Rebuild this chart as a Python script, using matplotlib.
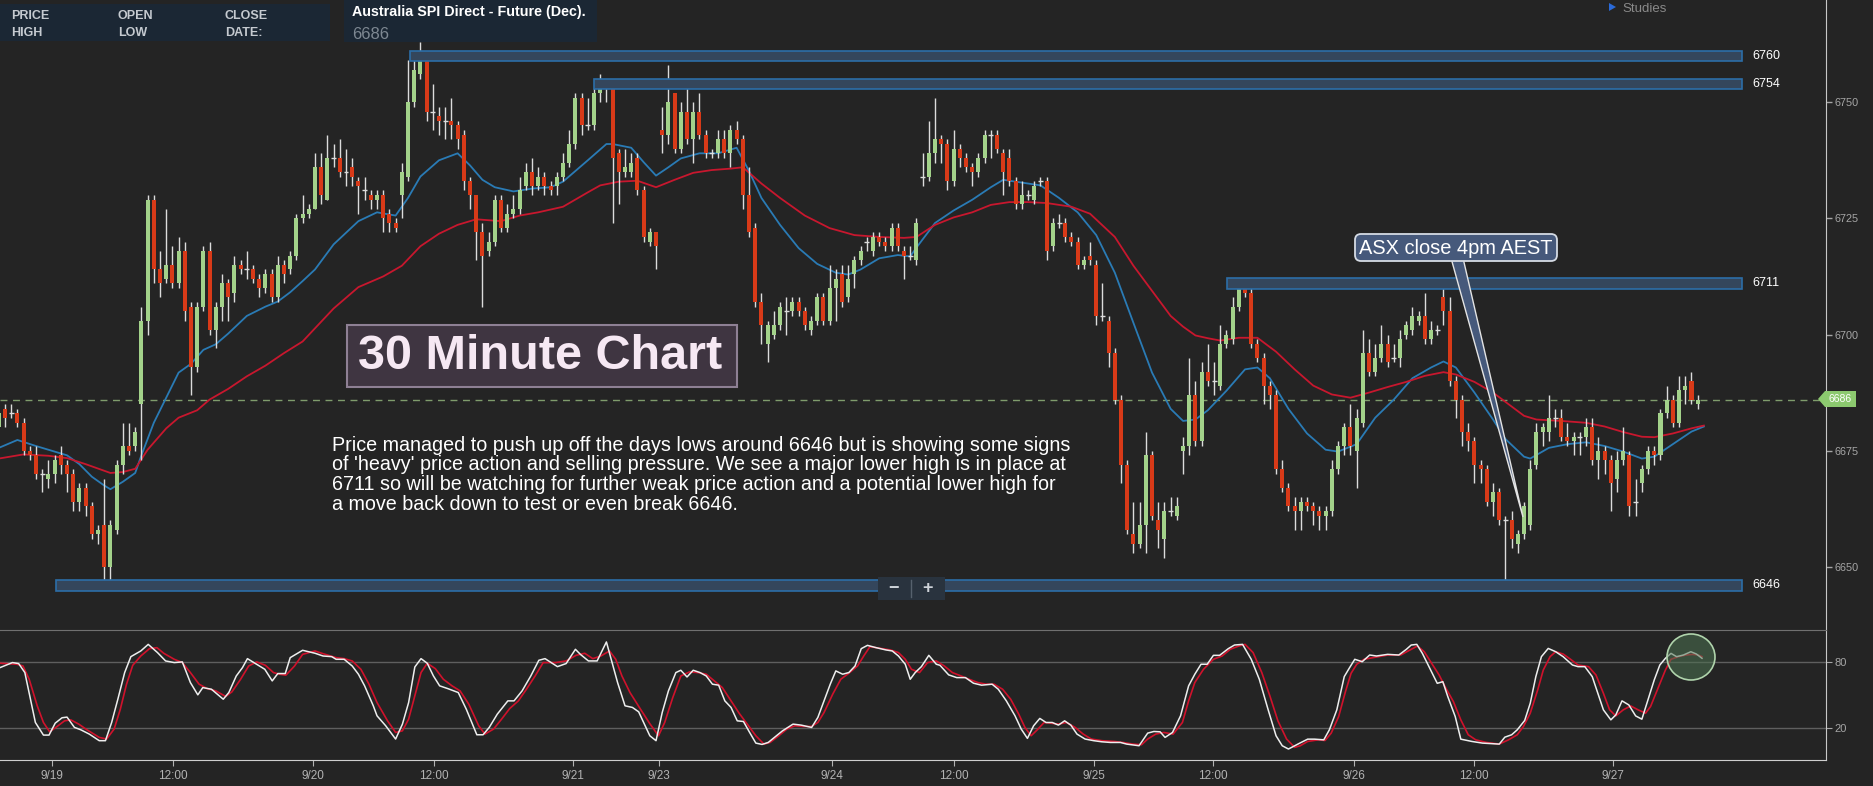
import matplotlib
matplotlib.use("Agg")
import matplotlib.pyplot as plt
from matplotlib import font_manager
from matplotlib.patches import Rectangle, FancyBboxPatch, Ellipse, Polygon
from matplotlib.lines import Line2D
from matplotlib.transforms import Affine2D

W, H = 1873, 786
BG = "#242424"
UP = "#a3d28a"
DOWN = "#d83a18"
WICK = "#dcdcdc"

# 30 minute bars, index 0 = first visible bar
opens = [6680, 6684, 6683, 6683, 6681, 6675, 6674, 6670, 6669, 6670,
         6674, 6672, 6670, 6664, 6667, 6663, 6657, 6659, 6650, 6658,
         6672, 6676, 6676, 6685, 6703, 6729, 6714, 6712, 6715, 6711,
         6718, 6706, 6693, 6706, 6718, 6701, 6706, 6711, 6709, 6715,
         6714, 6714, 6712, 6710, 6713, 6708, 6715, 6714, 6717, 6725,
         6726, 6727, 6736, 6729, 6738, 6738, 6735, 6736, 6733, 6731,
         6730, 6729, 6730, 6726, 6724, 6730, 6734, 6750, 6756, 6759,
         6748, 6747, 6746, 6746, 6745, 6743, 6733, 6730, 6722, 6718,
         6720, 6729, 6723, 6726, 6727, 6732, 6735, 6732, 6734, 6732,
         6732, 6734, 6737, 6741, 6751, 6745, 6745, 6752, 6754, 6754,
         6739, 6735, 6735, 6738, 6731, 6720, 6722, 6744, 6743, 6752,
         6740, 6748, 6742, 6748, 6743, 6739, 6739, 6742, 6739, 6744,
         6742, 6730, 6723, 6707, 6698, 6700, 6702, 6705, 6705, 6707,
         6705, 6701, 6703, 6708, 6703, 6710, 6713, 6708, 6713, 6716,
         6720, 6718, 6721, 6720, 6719, 6723, 6718, 6717, 6716, 6734,
         6734, 6739, 6742, 6741, 6733, 6740, 6738, 6736, 6735, 6738,
         6743, 6743, 6739, 6738, 6733, 6728, 6730, 6729, 6733, 6733,
         6719, 6724, 6724, 6721, 6720, 6715, 6717, 6715, 6704, 6703,
         6696, 6686, 6672, 6657, 6655, 6659, 6674, 6660, 6656, 6662,
         6661, 6675, 6676, 6687, 6677, 6692, 6690, 6689, 6698, 6699,
         6706, 6710, 6709, 6698, 6695, 6689, 6687, 6671, 6667, 6663,
         6662, 6664, 6663, 6662, 6661, 6662, 6671, 6676, 6680, 6675,
         6681, 6696, 6692, 6695, 6698, 6695, 6695, 6700, 6701, 6703,
         6704, 6699, 6701, 6708, 6705, 6690, 6686, 6679, 6677, 6672,
         6671, 6664, 6666, 6660, 6660, 6655, 6657, 6659, 6672, 6679,
         6679, 6682, 6682, 6678, 6677, 6678, 6678, 6680, 6673, 6675,
         6673, 6669, 6673, 6674, 6664, 6668, 6671, 6675, 6674, 6683,
         6686, 6681, 6688, 6690, 6685]
highs = [6685, 6685, 6685, 6684, 6682, 6676, 6676, 6671, 6673, 6674,
         6676, 6673, 6671, 6668, 6668, 6664, 6659, 6669, 6660, 6673,
         6681, 6681, 6680, 6706, 6730, 6730, 6718, 6727, 6719, 6721,
         6720, 6707, 6707, 6719, 6720, 6707, 6713, 6712, 6717, 6716,
         6718, 6715, 6713, 6714, 6714, 6717, 6716, 6718, 6726, 6730,
         6728, 6739, 6739, 6743, 6741, 6742, 6740, 6738, 6734, 6734,
         6731, 6731, 6731, 6727, 6725, 6737, 6759, 6761, 6763, 6759,
         6754, 6749, 6749, 6751, 6746, 6744, 6734, 6730, 6724, 6722,
         6730, 6730, 6728, 6730, 6734, 6737, 6738, 6736, 6735, 6733,
         6735, 6739, 6744, 6752, 6752, 6751, 6753, 6756, 6755, 6755,
         6740, 6740, 6739, 6739, 6732, 6723, 6722, 6749, 6758, 6752,
         6750, 6754, 6750, 6752, 6744, 6740, 6744, 6744, 6745, 6746,
         6743, 6736, 6724, 6709, 6703, 6705, 6707, 6708, 6708, 6708,
         6706, 6704, 6709, 6709, 6715, 6714, 6715, 6715, 6717, 6719,
         6721, 6722, 6722, 6721, 6724, 6724, 6719, 6719, 6725, 6739,
         6746, 6751, 6743, 6742, 6744, 6741, 6739, 6737, 6739, 6744,
         6744, 6744, 6740, 6740, 6734, 6733, 6731, 6733, 6734, 6734,
         6725, 6726, 6725, 6722, 6721, 6717, 6720, 6716, 6711, 6704,
         6697, 6687, 6673, 6664, 6664, 6679, 6675, 6664, 6664, 6665,
         6665, 6678, 6695, 6690, 6694, 6698, 6694, 6702, 6701, 6708,
         6712, 6712, 6710, 6699, 6696, 6690, 6688, 6673, 6668, 6665,
         6665, 6665, 6664, 6663, 6663, 6673, 6677, 6681, 6685, 6684,
         6701, 6699, 6698, 6702, 6700, 6698, 6701, 6703, 6706, 6705,
         6709, 6703, 6702, 6710, 6708, 6691, 6687, 6681, 6678, 6673,
         6672, 6668, 6667, 6661, 6662, 6658, 6664, 6673, 6681, 6681,
         6687, 6684, 6684, 6681, 6679, 6679, 6682, 6682, 6678, 6676,
         6674, 6675, 6680, 6675, 6669, 6672, 6676, 6676, 6684, 6689,
         6687, 6691, 6691, 6692, 6687]
lows = [6679, 6680, 6682, 6680, 6674, 6673, 6669, 6666, 6667, 6668,
        6670, 6666, 6662, 6662, 6661, 6656, 6655, 6647, 6646, 6657,
        6670, 6674, 6675, 6673, 6700, 6711, 6708, 6711, 6710, 6710,
        6703, 6687, 6692, 6705, 6700, 6697, 6703, 6703, 6707, 6713,
        6712, 6711, 6708, 6709, 6707, 6707, 6711, 6713, 6716, 6724,
        6725, 6727, 6728, 6729, 6736, 6734, 6732, 6732, 6726, 6729,
        6727, 6727, 6722, 6722, 6722, 6725, 6733, 6749, 6755, 6746,
        6744, 6743, 6742, 6742, 6740, 6731, 6727, 6716, 6706, 6717,
        6719, 6722, 6722, 6725, 6726, 6731, 6730, 6731, 6730, 6730,
        6730, 6733, 6736, 6740, 6743, 6744, 6744, 6750, 6750, 6724,
        6728, 6734, 6734, 6730, 6720, 6719, 6714, 6739, 6741, 6739,
        6739, 6741, 6737, 6742, 6738, 6738, 6738, 6738, 6736, 6741,
        6727, 6721, 6706, 6698, 6694, 6699, 6701, 6700, 6704, 6704,
        6701, 6700, 6702, 6702, 6702, 6703, 6706, 6707, 6710, 6715,
        6718, 6717, 6719, 6718, 6718, 6718, 6712, 6716, 6715, 6732,
        6733, 6737, 6737, 6731, 6732, 6736, 6735, 6732, 6734, 6737,
        6738, 6739, 6730, 6732, 6727, 6727, 6729, 6728, 6732, 6716,
        6718, 6723, 6720, 6719, 6714, 6714, 6715, 6702, 6703, 6693,
        6685, 6668, 6657, 6653, 6654, 6653, 6660, 6654, 6652, 6661,
        6660, 6670, 6674, 6676, 6676, 6689, 6687, 6688, 6697, 6698,
        6705, 6708, 6697, 6694, 6685, 6684, 6670, 6666, 6662, 6658,
        6658, 6662, 6659, 6658, 6658, 6661, 6670, 6674, 6674, 6667,
        6680, 6691, 6691, 6694, 6693, 6694, 6693, 6699, 6700, 6702,
        6698, 6698, 6700, 6702, 6689, 6682, 6676, 6675, 6668, 6668,
        6663, 6661, 6659, 6647, 6654, 6653, 6656, 6658, 6671, 6676,
        6677, 6680, 6677, 6676, 6674, 6674, 6676, 6672, 6669, 6670,
        6662, 6666, 6672, 6661, 6661, 6666, 6670, 6672, 6673, 6682,
        6680, 6680, 6685, 6685, 6684]
closes = [6683, 6682, 6683, 6681, 6675, 6674, 6670, 6670, 6670, 6673,
          6672, 6670, 6664, 6667, 6663, 6657, 6658, 6650, 6659, 6672,
          6676, 6675, 6679, 6703, 6729, 6714, 6711, 6715, 6711, 6718,
          6705, 6693, 6706, 6718, 6701, 6706, 6711, 6708, 6715, 6714,
          6714, 6712, 6710, 6713, 6708, 6715, 6713, 6717, 6725, 6726,
          6727, 6736, 6730, 6738, 6738, 6735, 6735, 6734, 6732, 6731,
          6729, 6730, 6725, 6724, 6723, 6735, 6750, 6757, 6759, 6748,
          6748, 6746, 6746, 6745, 6742, 6733, 6730, 6722, 6717, 6720,
          6729, 6723, 6726, 6727, 6731, 6735, 6732, 6734, 6732, 6731,
          6734, 6737, 6741, 6751, 6745, 6745, 6752, 6754, 6754, 6738,
          6735, 6736, 6737, 6731, 6721, 6722, 6719, 6743, 6750, 6740,
          6748, 6742, 6748, 6743, 6739, 6739, 6742, 6739, 6744, 6742,
          6730, 6722, 6707, 6702, 6702, 6702, 6706, 6705, 6707, 6705,
          6702, 6703, 6708, 6703, 6710, 6712, 6707, 6712, 6716, 6718,
          6720, 6721, 6720, 6719, 6723, 6719, 6717, 6717, 6724, 6734,
          6739, 6742, 6741, 6733, 6740, 6738, 6736, 6735, 6738, 6743,
          6743, 6740, 6735, 6733, 6728, 6730, 6730, 6732, 6733, 6718,
          6724, 6724, 6721, 6720, 6715, 6716, 6716, 6704, 6704, 6696,
          6686, 6672, 6658, 6655, 6659, 6674, 6661, 6658, 6662, 6662,
          6663, 6676, 6687, 6677, 6692, 6690, 6690, 6698, 6700, 6706,
          6710, 6709, 6698, 6695, 6689, 6687, 6671, 6667, 6663, 6662,
          6664, 6663, 6662, 6661, 6662, 6671, 6676, 6680, 6676, 6682,
          6696, 6692, 6695, 6698, 6694, 6695, 6699, 6702, 6704, 6704,
          6699, 6701, 6701, 6705, 6690, 6686, 6679, 6677, 6672, 6671,
          6664, 6666, 6660, 6660, 6656, 6657, 6663, 6671, 6679, 6680,
          6682, 6682, 6678, 6677, 6678, 6678, 6680, 6673, 6675, 6673,
          6668, 6673, 6675, 6663, 6664, 6671, 6675, 6674, 6683, 6686,
          6681, 6688, 6689, 6686, 6686]

# moving averages: (bar, value)
ma_fast = [(0, 6675.6), (3, 6677.3), (6, 6676), (8, 6675.2), (11, 6674), (13, 6672.1),
           (15, 6669.4), (17, 6667.5), (18, 6666.7), (20, 6668.3), (22, 6670.2), (23, 6674),
           (25, 6681), (27, 6686.4), (29, 6691.8), (31, 6693.7), (33, 6696.7), (35, 6697.9),
           (37, 6700.2), (40, 6704), (43, 6706), (45, 6707.1), (47, 6709.1), (49, 6711.5),
           (51, 6714), (54, 6719.4), (58, 6724.4), (61, 6726.3), (64, 6725.6), (66, 6729.4),
           (68, 6734), (71, 6737.5), (74, 6739), (76, 6736.4), (78, 6733.3), (80, 6731.7),
           (83, 6730.8), (86, 6731.4), (89, 6731.7), (91, 6732.9), (93, 6735.2), (95, 6737.5),
           (98, 6741), (99, 6741), (102, 6740.2), (104, 6737.1), (106, 6734.2), (108, 6736),
           (110, 6737.9), (113, 6739), (116, 6739), (119, 6740.2), (121, 6735.2), (123, 6729.4),
           (126, 6723.6), (129, 6718.6), (132, 6715.2), (135, 6713.3), (137, 6712.9), (139, 6714),
           (142, 6716.4), (145, 6717.1), (147, 6716.8), (148, 6718.7), (151, 6724), (154, 6726.7),
           (157, 6729), (160, 6731.7), (162, 6733.3), (165, 6732.7), (168, 6732.1), (171, 6729.4),
           (174, 6726.3), (177, 6721.4), (180, 6713.3), (183, 6702.5), (186, 6691.8), (189, 6684),
           (191, 6681.4), (193, 6681.7), (195, 6683.7), (198, 6687.9), (201, 6692.5), (203, 6692.9),
           (205, 6690.6), (208, 6684), (211, 6678.7), (214, 6675.2), (216, 6674.8), (219, 6676.4),
           (222, 6682.1), (225, 6686), (228, 6690.6), (231, 6692.9), (233, 6694.2), (235, 6692.9),
           (238, 6687.5), (241, 6681.7), (243, 6677.5), (246, 6673.7), (247, 6673.3), (250, 6675.6),
           (253, 6676.4), (256, 6676.8), (259, 6676), (262, 6674.8), (265, 6673.3), (267, 6673.7),
           (270, 6676.4), (273, 6679.1), (275, 6680.2)]
ma_slow = [(0, 6673.3), (4, 6674.2), (8, 6673.9), (11, 6673.4), (14, 6672.1), (18, 6670.2),
           (20, 6670.4), (22, 6671.1), (24, 6675.2), (27, 6679.8), (29, 6682.1), (32, 6683.7),
           (34, 6686), (37, 6688.3), (40, 6691), (43, 6693.3), (46, 6696), (49, 6698.5),
           (54, 6705.6), (58, 6710.2), (62, 6712.5), (65, 6714.8), (68, 6719), (71, 6721.7),
           (74, 6723.6), (77, 6724.8), (81, 6724.4), (84, 6725.6), (87, 6726.3), (91, 6727.5),
           (95, 6730.6), (97, 6732.1), (100, 6732.9), (103, 6733.1), (106, 6731.7), (109, 6733.3),
           (112, 6734.8), (115, 6735.4), (118, 6735.7), (120, 6736), (123, 6732.5), (126, 6729.4),
           (130, 6725.6), (134, 6722.9), (138, 6721.4), (142, 6721), (146, 6720.8), (148, 6721),
           (151, 6723.6), (154, 6725.2), (157, 6726.3), (160, 6727.9), (163, 6728.5), (166, 6728.5),
           (169, 6728.3), (173, 6727.5), (176, 6726), (180, 6721), (183, 6714.8), (186, 6709.4),
           (189, 6704), (191, 6701.7), (193, 6699.8), (195, 6699.2), (197, 6698.7), (200, 6699.3),
           (203, 6699.3), (206, 6696.3), (209, 6692.5), (212, 6689), (215, 6687.1), (218, 6686.4),
           (221, 6687.5), (224, 6688.7), (227, 6689.8), (230, 6691.1), (233, 6691.9), (235, 6691.4),
           (238, 6689.8), (241, 6687.5), (243, 6685.5), (246, 6682.5), (248, 6681.7), (252, 6681.4),
           (256, 6681), (259, 6680.2), (262, 6679), (265, 6678), (267, 6677.9), (270, 6678.7),
           (273, 6679.8), (275, 6680.4)]

# stochastic %K (white) and %D (red): (bar, value)
stoch_k = [(0.19, 75.1), (2.2, 79.7), (3.2, 78.8), (4.2, 70.6), (5.9, 25.1), (7.2, 13.6), (8.1, 13.6),
           (9.1, 24.5), (10.2, 29.4), (11.0, 30.0), (12.2, 20.6), (13.2, 18.5), (14.6, 14.5), (16.2, 8.5),
           (17.2, 8.5), (18.2, 25.1), (19.2, 46.3), (20.3, 70.6), (21.3, 85.1), (22.9, 90.3), (24.1, 96.3),
           (25.6, 88.8), (26.9, 81.2), (28.3, 79.7), (29.6, 80.3), (30.9, 61.5), (32.1, 50.3), (32.9, 56.9),
           (34.3, 55.4), (36.2, 46.3), (37.1, 52.4), (38.3, 67.5), (39.3, 75.1), (40.1, 83.3), (41.3, 79.1),
           (42.9, 73.6), (44.1, 63.0), (45.0, 69.7), (46.2, 69.7), (47.0, 84.2), (49.0, 90.9), (51.0, 88.2),
           (52.3, 85.7), (53.7, 85.1), (54.4, 82.7), (55.7, 82.7), (57.0, 76.6), (58.0, 69.1), (59.0, 58.5),
           (60.4, 40.3), (61.0, 31.2), (62.4, 22.1), (64.0, 10.0), (65.1, 23.6), (66.1, 43.3), (67.1, 75.7),
           (68.1, 83.3), (69.1, 79.1), (70.1, 67.5), (71.1, 58.5), (72.4, 56.0), (74.1, 52.4), (75.4, 37.2),
           (77.1, 13.9), (78.1, 13.9), (79.1, 20.6), (80.4, 32.7), (82.1, 44.8), (83.1, 44.8), (84.4, 53.9),
           (85.8, 67.5), (87.1, 81.8), (88.1, 83.3), (90.1, 76.0), (91.5, 78.8), (93.0, 91.8), (93.8, 87.2),
           (95.1, 81.2), (96.5, 81.2), (98.0, 98.5), (99.8, 61.5), (101.0, 40.3), (102.2, 38.8),
           (103.2, 34.8), (105.0, 13.0), (106.0, 8.5), (107.0, 34.2), (108.0, 53.9), (109.2, 70.6),
           (110.0, 72.7), (111.0, 66.6), (112.0, 72.7), (113.1, 70.6), (114.1, 67.5), (115.1, 60.0),
           (116.1, 59.1), (117.1, 44.8), (118.1, 38.8), (119.1, 26.6), (120.1, 26.0), (121.1, 16.0),
           (122.1, 6.3), (123.1, 5.1), (124.1, 6.9), (125.1, 11.5), (126.4, 17.5), (128.1, 23.6),
           (129.4, 22.7), (131.1, 20.6), (132.1, 29.7), (133.1, 44.8), (134.1, 60.0), (135.0, 72.1),
           (136.1, 69.1), (137.1, 70.6), (138.1, 76.6), (139.1, 92.4), (140.1, 95.4), (141.5, 93.3),
           (143.1, 91.2), (144.1, 90.3), (145.1, 85.7), (146.2, 78.2), (147.0, 64.5), (147.8, 70.6),
           (148.8, 76.0), (150.0, 86.3), (151.2, 78.2), (151.8, 77.2), (153.2, 68.5), (154.5, 66.0),
           (155.9, 66.0), (157.2, 60.9), (158.5, 59.1), (160.2, 60.0), (161.2, 55.4), (162.5, 44.8),
           (163.9, 31.2), (164.9, 19.1), (165.9, 10.6), (166.9, 22.1), (167.9, 28.8), (168.9, 25.1),
           (169.9, 25.1), (170.9, 22.7), (171.9, 26.6), (172.9, 22.7), (173.9, 14.5), (175.2, 10.0),
           (176.6, 8.5), (177.9, 7.5), (179.3, 6.9), (180.9, 6.9), (181.9, 5.4), (183.9, 3.9),
           (185.3, 15.4), (186.3, 16.9), (187.3, 16.6), (188.1, 11.5), (189.3, 16.0), (190.6, 31.2),
           (191.9, 58.5), (192.9, 69.1), (193.9, 78.2), (194.9, 78.2), (195.9, 86.3), (196.9, 86.3),
           (198.3, 92.4), (199.3, 95.7), (200.6, 96.3), (202.0, 82.7), (203.3, 64.5), (204.7, 37.2),
           (206.0, 13.0), (207.0, 3.9), (208.0, 0.9), (209.9, 6.5), (211.1, 9.9), (212.2, 9.9),
           (213.7, 9.3), (214.6, 18.4), (215.8, 36.6), (217.0, 66.9), (217.8, 74.5), (218.7, 82.7),
           (219.9, 80.5), (221.1, 86.6), (222.2, 85.7), (224.0, 87.2), (225.8, 86.6), (227.0, 91.7),
           (227.8, 95.7), (228.7, 96.3), (229.6, 88.1), (230.8, 74.5), (232.0, 60.8), (232.9, 62.3),
           (233.7, 48.7), (234.9, 30.5), (235.8, 9.9), (237.6, 7.8), (239.3, 6.3), (242.0, 5.4),
           (242.9, 11.7), (244.0, 13.9), (244.9, 18.4), (246.1, 26.9), (247.0, 42.7), (247.9, 66.9),
           (248.8, 85.1), (249.9, 92.6), (251.1, 89.6), (252.3, 85.1), (253.8, 77.5), (254.7, 76.0),
           (255.8, 76.0), (257.0, 66.9), (257.9, 51.7), (258.8, 36.6), (260.0, 27.5), (260.8, 32.0),
           (261.8, 44.8), (262.9, 41.1), (264.0, 31.1), (265.0, 28.1), (265.9, 44.2), (267.0, 63.9),
           (267.9, 77.5), (268.8, 83.6), (269.7, 88.1), (270.6, 85.1), (271.7, 86.6), (272.9, 89.6),
           (273.8, 87.5), (274.7, 83.6)]
stoch_d = [(0.19, 79.1), (2.9, 78.2), (3.9, 76.6), (4.9, 64.5), (6.2, 40.3), (7.2, 25.1), (8.2, 16.6),
           (9.2, 20.6), (10.6, 26.6), (11.6, 27.5), (12.9, 23.6), (14.2, 18.5), (16.2, 11.5), (17.4, 10.0),
           (18.6, 19.1), (19.6, 37.2), (20.6, 60.0), (21.6, 77.2), (22.9, 85.7), (24.3, 92.4), (25.5, 93.3),
           (26.6, 88.2), (28.3, 82.7), (29.6, 79.7), (30.9, 70.6), (32.3, 60.0), (33.6, 56.0), (35.0, 53.9),
           (36.6, 48.8), (37.6, 53.0), (39.0, 64.5), (40.3, 76.6), (41.6, 80.3), (43.0, 77.2), (44.3, 70.6),
           (45.3, 69.1), (46.3, 68.2), (47.7, 76.6), (49.0, 87.2), (51.0, 90.3), (52.3, 87.8), (54.4, 84.2),
           (55.7, 83.3), (57.0, 81.2), (58.4, 73.6), (59.7, 60.0), (61.0, 43.3), (62.7, 26.6), (64.0, 16.0),
           (65.1, 17.5), (66.1, 28.2), (67.1, 49.4), (68.1, 70.6), (69.1, 79.1), (70.4, 74.2), (71.7, 64.5),
           (73.1, 58.5), (74.4, 53.9), (75.8, 41.8), (77.4, 22.1), (78.4, 14.5), (79.8, 19.1), (81.1, 28.2),
           (82.4, 37.8), (83.8, 44.8), (85.1, 55.4), (86.5, 67.5), (87.8, 79.7), (89.8, 79.7), (91.5, 81.2),
           (93.1, 86.3), (94.5, 88.2), (95.8, 83.3), (97.1, 85.7), (98.5, 90.3), (99.5, 82.7), (100.5, 67.5),
           (101.8, 52.4), (103.5, 37.2), (105.0, 24.0), (106.4, 13.0), (107.4, 25.1), (108.7, 47.8),
           (110.0, 67.5), (111.4, 71.2), (112.7, 70.6), (114.1, 69.1), (115.4, 63.0), (116.7, 56.9),
           (118.1, 44.8), (119.4, 33.6), (120.7, 23.6), (122.1, 13.0), (123.4, 5.4), (124.4, 6.9),
           (125.8, 13.0), (127.1, 19.1), (128.4, 22.1), (129.8, 21.5), (131.1, 21.5), (132.1, 25.1),
           (133.1, 34.2), (134.5, 50.9), (135.8, 64.5), (137.1, 70.0), (138.5, 76.6), (139.5, 85.7),
           (140.5, 94.2), (142.1, 92.7), (143.8, 91.2), (145.1, 88.8), (146.2, 82.7), (147.2, 73.6),
           (148.5, 70.6), (149.8, 79.7), (151.2, 81.2), (152.5, 76.6), (153.8, 70.6), (155.2, 67.5),
           (156.5, 64.5), (157.9, 61.5), (159.2, 60.0), (160.5, 60.0), (161.9, 55.4), (163.2, 46.3),
           (164.5, 32.7), (165.5, 20.6), (166.5, 13.0), (167.5, 18.5), (168.6, 25.1), (169.6, 24.5),
           (170.9, 23.6), (172.2, 25.1), (173.6, 20.6), (174.9, 14.5), (176.2, 10.0), (177.9, 8.5),
           (179.9, 7.8), (181.3, 6.9), (182.9, 5.4), (184.3, 4.8), (185.3, 10.0), (186.6, 14.5),
           (187.9, 16.0), (189.4, 14.5), (190.9, 25.1), (191.9, 44.8), (192.9, 61.5), (194.3, 73.6),
           (195.9, 82.7), (197.3, 85.7), (198.6, 91.8), (200.0, 94.8), (201.0, 96.3), (202.3, 88.8),
           (203.7, 70.6), (205.0, 49.4), (206.3, 26.6), (207.7, 10.0), (209.0, 2.4), (209.9, 3.9),
           (211.1, 7.8), (212.8, 9.3), (213.9, 8.7), (214.9, 15.4), (216.1, 30.5), (217.2, 53.3),
           (218.1, 69.9), (219.0, 78.1), (220.2, 82.7), (221.7, 84.2), (224.0, 86.6), (226.1, 86.6),
           (227.6, 91.1), (228.8, 94.8), (229.9, 89.6), (231.1, 79.0), (232.3, 68.4), (233.4, 56.3),
           (234.6, 44.2), (235.8, 27.5), (237.0, 13.9), (238.2, 9.3), (239.9, 6.9), (242.0, 5.4),
           (243.5, 9.3), (244.9, 13.9), (245.9, 21.4), (247.0, 33.6), (248.2, 54.8), (249.1, 72.9),
           (250.2, 85.1), (251.1, 89.6), (252.3, 87.5), (253.5, 82.7), (254.7, 77.5), (256.4, 76.0),
           (257.6, 68.4), (258.8, 51.7), (259.8, 36.6), (260.8, 31.1), (262.0, 36.6), (263.2, 40.2),
           (264.4, 36.6), (265.6, 33.6), (266.4, 39.6), (267.6, 56.3), (268.8, 72.9), (269.7, 82.7),
           (270.9, 85.1), (272.1, 86.6), (273.2, 87.2), (274.1, 86.6), (274.7, 85.1)]

levels = [6760, 6754, 6711, 6646]
level_start = [66.3, 96.0, 198.1, 9.2]
level_end = 281.2
last_price = 6686

tick_pos = [8.6, 28.1, 50.7, 70.2, 92.6, 106.5, 134.4, 154.1, 176.6, 195.8, 218.6, 237.9, 260.3]
tick_lab = ["9/19", "12:00", "9/20", "12:00", "9/21", "9/23", "9/24", "12:00",
            "9/25", "12:00", "9/26", "12:00", "9/27"]
price_ticks = [6650, 6675, 6700, 6725, 6750]
stoch_ticks = [20, 80]

comment = ["Price managed to push up off the days lows around 6646 but is showing some signs",
           "of 'heavy' price action and selling pressure. We see a major lower high is in place at",
           "6711 so will be watching for further weak price action and a potential lower high for",
           "a move back down to test or even break 6646."]

names = {f.name for f in font_manager.fontManager.ttflist}
if "Liberation Sans Narrow" in names:
    NARROW, TITLE_SIZE = "Liberation Sans Narrow", 12.6
else:
    NARROW, TITLE_SIZE = "Liberation Sans", 10.3
plt.rcParams["font.family"] = ["Liberation Sans", "DejaVu Sans"]

fig = plt.figure(figsize=(W / 100, H / 100), dpi=100, facecolor=BG)
# pixel coords measured from the top-left corner of the image
pix = Affine2D().scale(1 / W, -1 / H).translate(0, 1) + fig.transFigure

ax = fig.add_axes([0, 1 - 630 / H, 1826 / W, 630 / H], facecolor=BG)
sx = fig.add_axes([0, 1 - 760 / H, 1826 / W, 130 / H], facecolor=BG)
xmin, xmax = 0.194, 294.7

# ---- price panel ----
n = len(opens)
idx = list(range(n))
ax.vlines(idx, lows, highs, color=WICK, lw=1, zorder=3)
up = [i for i in idx if closes[i] > opens[i]]
dn = [i for i in idx if closes[i] < opens[i]]
dj = [i for i in idx if closes[i] == opens[i]]
ax.bar(up, [closes[i] - opens[i] for i in up], bottom=[opens[i] for i in up],
       width=0.66, color=UP, lw=0, zorder=4)
ax.bar(dn, [opens[i] - closes[i] for i in dn], bottom=[closes[i] for i in dn],
       width=0.66, color=DOWN, lw=0, zorder=4)
ax.hlines([opens[i] for i in dj], [i - 0.4 for i in dj], [i + 0.4 for i in dj],
          color=WICK, lw=1, zorder=4)

fx, fy = zip(*ma_fast)
ax.plot(fx, fy, color="#2a7bb5", lw=1.3, zorder=2)
sxs, sys_ = zip(*ma_slow)
ax.plot(sxs, sys_, color="#c8172e", lw=1.3, zorder=2)

for lvl, start in zip(levels, level_start):
    ax.add_patch(Rectangle((start, lvl - 1.1), level_end - start, 2.2,
                           facecolor="#34465c", edgecolor="#2c6ea8", lw=1.2, zorder=5))
    ax.text(282.8, lvl, str(lvl), color="white", fontsize=9, va="center", ha="left")

ax.axhline(last_price, color="#7f9c6c", lw=1, dashes=(5, 4), zorder=1)

ax.set_xlim(xmin, xmax)
ax.set_ylim(6636.4, 6772.0)
ax.set_xticks([])
ax.yaxis.tick_right()
ax.set_yticks(price_ticks)
ax.tick_params(axis="y", colors="#a6a6a6", labelsize=7.8, length=4, width=1, pad=2)
for s in ["left", "top", "bottom"]:
    ax.spines[s].set_visible(False)
ax.spines["right"].set_color("#c8c8c8")

# ---- stochastic panel ----
for v in stoch_ticks:
    sx.axhline(v, color="#5f5f5f", lw=1)
dx, dy = zip(*stoch_d)
sx.plot(dx, dy, color="#d0122c", lw=1.2)
kx, ky = zip(*stoch_k)
sx.plot(kx, ky, color="#eeeeee", lw=1.1)
sx.set_xlim(xmin, xmax)
sx.set_ylim(-9.1, 109.4)
sx.yaxis.tick_right()
sx.set_yticks(stoch_ticks)
sx.set_xticks(tick_pos, tick_lab)
sx.tick_params(axis="y", colors="#a6a6a6", labelsize=8, length=4, pad=2)
sx.tick_params(axis="x", colors="#b3b3b3", labelsize=8.5, length=4, pad=3)
sx.spines["left"].set_visible(False)
sx.spines["top"].set_color("#707070")
sx.spines["bottom"].set_color("#cfcfcf")
sx.spines["right"].set_color("#c8c8c8")

# ---- overlays in pixel coordinates ----
def box(x, y, w, h, **kw):
    fig.add_artist(Rectangle((x, y), w, h, transform=pix, **kw))

def label(x, y, s, **kw):
    fig.text(x, y, s, transform=pix, **kw)

box(0, 4, 330, 37, facecolor="#1b2734", lw=0)
for x, top, bottom in [(11, "PRICE", "HIGH"), (118, "OPEN", "LOW"), (225, "CLOSE", "DATE:")]:
    label(x, 19.3, top, family=NARROW, weight="bold", fontsize=9, color="#c5cad0")
    label(x, 36, bottom, family=NARROW, weight="bold", fontsize=9, color="#c5cad0")

box(344, 0, 253, 42, facecolor="#1b2734", lw=0)
label(352, 16, "Australia SPI Direct - Future (Dec).", family=NARROW, weight="bold",
      fontsize=TITLE_SIZE, color="white")
label(352, 39, str(last_price), family=NARROW, fontsize=12, color="#7e8892")

fig.add_artist(Polygon([(1609, 3), (1609, 11), (1616, 7)], closed=True, transform=pix,
                       facecolor="#2a6ad8", lw=0))
label(1622, 12, "Studies", fontsize=9.5, color="#8a8a8a")

box(347, 325, 390, 62, facecolor="#3f3541", edgecolor="#8e8094", lw=1.5)
label(358, 369.3, "30 Minute Chart", fontsize=35, weight="bold", color="#f6e8f3")

for k, line in enumerate(comment):
    label(332, 450.7 + 19.6 * k, line, fontsize=14.2, color="white")

fig.add_artist(Polygon([(1451, 258), (1463, 258), (1523, 517)], closed=True, transform=pix,
                       facecolor="#46597b", edgecolor="#e4e4e4", lw=1))
fig.add_artist(FancyBboxPatch((1355, 234), 202, 27, boxstyle="round,pad=0,rounding_size=6",
                              transform=pix, facecolor="#46597b", edgecolor="#d5dbe4", lw=1.3))
label(1456, 248, "ASX close 4pm AEST", fontsize=14.4, color="white", ha="center", va="center")

box(878, 577, 67, 23, facecolor="#29333e", lw=0)
fig.add_artist(Line2D([911, 911], [580, 597], transform=pix, color="#56616d", lw=1))
label(894, 589, "\u2212", fontsize=13, weight="bold", color="#cdd2d8", ha="center", va="center")
label(928, 589, "+", fontsize=13, weight="bold", color="#cdd2d8", ha="center", va="center")

# last price tag on the axis
fig.add_artist(Polygon([(1818, 399), (1825, 391), (1856, 391), (1856, 407), (1825, 407)],
                       closed=True, transform=pix, facecolor="#8cc96f", lw=0))
label(1840, 399.5, str(last_price), fontsize=7.5, color="white", ha="center", va="center")

fig.add_artist(Ellipse((1691, 657), 48, 46, transform=pix, facecolor=(0.30, 0.45, 0.32, 0.55),
                       edgecolor="#b0d4ac", lw=1.2))

fig.savefig("out.png", dpi=100, facecolor=BG)
